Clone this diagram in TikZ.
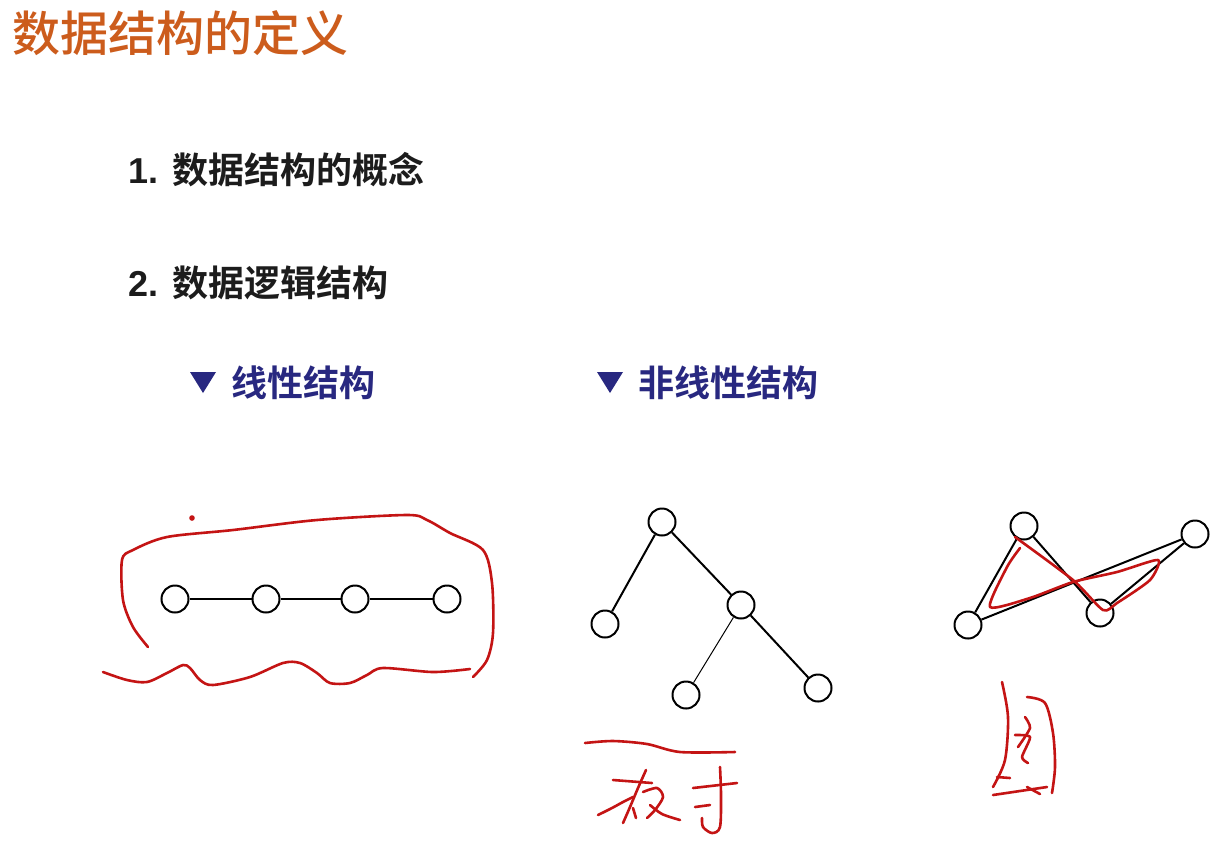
\documentclass[tikz,border=0pt]{standalone}
\usepackage{fontspec}
\newfontfamily\cjk{Noto Sans CJK SC Medium}
\newfontfamily\cjkbold{Noto Sans CJK SC Bold}
\newfontfamily\latinbold{Liberation Sans Bold}
\definecolor{titleorange}{RGB}{204,92,28}
\definecolor{headblue}{RGB}{40,40,128}
\definecolor{inkred}{RGB}{196,20,20}
\definecolor{textblack}{RGB}{28,28,28}
\begin{document}
\begin{tikzpicture}[x=0.5pt,y=-0.5pt,
  vertex/.style={circle,draw=black,line width=1pt,fill=white,minimum size=13.5pt,inner sep=0pt},
  edge/.style={line width=1pt,black},
  thinedge/.style={line width=0.5pt,black},
  ink/.style={inkred,line width=1.3pt,line cap=round,line join=round},
  item/.style={anchor=west,inner sep=0pt,text=textblack,font=\fontsize{18pt}{20pt}\selectfont},
  heading/.style={anchor=west,inner sep=0pt,text=headblue,font=\fontsize{18pt}{20pt}\selectfont},
  marker/.style={fill=headblue}]
\useasboundingbox (0,0) rectangle (1214,848);
\fill[white] (0,0) rectangle (1214,848);

% title
\node[anchor=west,inner sep=0pt,text=titleorange,font=\fontsize{24pt}{26pt}\selectfont\cjk] (title) at (12,33) {数据结构的定义};

% numbered items
\node[item] (item1) at (128,170) {{\latinbold 1.} \cjkbold 数据结构的概念};
\node[item] (item2) at (128,283) {{\latinbold 2.} \cjkbold 数据逻辑结构};

% sub headings with triangle markers
\fill[marker] (190,372) -- (216,372) -- (203,393) -- cycle;
\node[heading] (lin) at (231,383) {\cjkbold 线性结构};
\fill[marker] (597,372) -- (623,372) -- (610,393) -- cycle;
\node[heading] (nonlin) at (638,383) {\cjkbold 非线性结构};

% linear list
\node[vertex] (l1) at (175,599) {};
\node[vertex] (l2) at (266,599) {};
\node[vertex] (l3) at (355,599) {};
\node[vertex] (l4) at (447,599) {};
\draw[edge] (l1) -- (l2) (l2) -- (l3) (l3) -- (l4);

% binary tree
\node[vertex] (r)  at (662,522) {};
\node[vertex] (a)  at (605,624) {};
\node[vertex] (b)  at (741,605) {};
\node[vertex] (c)  at (686,695) {};
\node[vertex] (d)  at (818,688) {};
\draw[edge] (r) -- (a) (r) -- (b) (b) -- (d);
\draw[thinedge] (b) -- (c);

% graph
\node[vertex] (g1) at (1024,526) {};
\node[vertex] (g2) at (1195,534) {};
\node[vertex] (g3) at (968,625) {};
\node[vertex] (g4) at (1100,613) {};
\draw[edge] (g1) -- (g3) (g1) -- (g4) (g3) -- (g2) (g4) -- (g2);

% hand-drawn loop around the linear list
\fill[inkred] (192,518) circle (1.4pt);
\draw[ink] plot[smooth,tension=0.5] coordinates {(148,647) (133,627) (123,600) (122,560) (133,550) (167,537) (233,530) (317,520) (407,515) (427,520) (450,533) (483,550) (492,583) (493,633) (487,660) (473,677)};
\draw[ink] plot[smooth,tension=0.5] coordinates {(103,672) (127,680) (147,682) (167,673) (183,665) (190,668) (200,680) (213,685) (250,677) (283,663) (300,663) (317,673) (330,683) (350,683) (367,675) (383,668) (433,672) (470,669)};

% hand-drawn loop over the graph
\draw[ink] plot[smooth,tension=0.4] coordinates {(1015,537) (1073,580) (1103,610) (1117,603) (1150,580) (1158,560) (1117,572) (1073,582) (1030,598) (990,607) (1007,567) (1020,548)};

% handwriting under the tree
\draw[ink] plot[smooth,tension=0.5] coordinates {(585,743) (613,741) (647,744) (680,752) (735,752)};
\draw[ink] (613,780) -- (652,783);
\draw[ink] plot[smooth,tension=0.5] coordinates {(646,770) (638,788) (630,807) (623,823)};
\draw[ink] plot[smooth,tension=0.5] coordinates {(598,815) (612,808) (623,802) (633,797)};
\draw[ink] (633,808) -- (636,818);
\draw[ink] plot[smooth,tension=0.5] coordinates {(643,792) (657,788) (663,797) (655,810) (647,818)};
\draw[ink] plot[smooth,tension=0.5] coordinates {(650,805) (662,814) (680,820)};
\draw[ink] (693,788) -- (737,783);
\draw[ink] plot[smooth,tension=0.5] coordinates {(720,767) (721,795) (720,827) (712,833) (703,827) (702,818)};
\draw[ink] (695,807) -- (710,805);

% handwriting under the graph
\draw[ink] plot[smooth,tension=0.5] coordinates {(1002,682) (1008,717) (1005,760) (993,787)};
\draw[ink] plot[smooth,tension=0.5] coordinates {(1027,697) (1045,703) (1053,733) (1055,767) (1052,793)};
\draw[ink] plot[smooth,tension=0.5] coordinates {(993,795) (1020,791) (1047,787)};
\draw[ink] plot[smooth,tension=0.4] coordinates {(1025,717) (1030,728) (1018,747)};
\draw[ink] plot[smooth,tension=0.4] coordinates {(1015,735) (1030,737) (1022,757) (1028,763)};
\draw[ink] (997,777) -- (1010,778);
\draw[ink] (1027,787) -- (1040,794);
\end{tikzpicture}
\end{document}
